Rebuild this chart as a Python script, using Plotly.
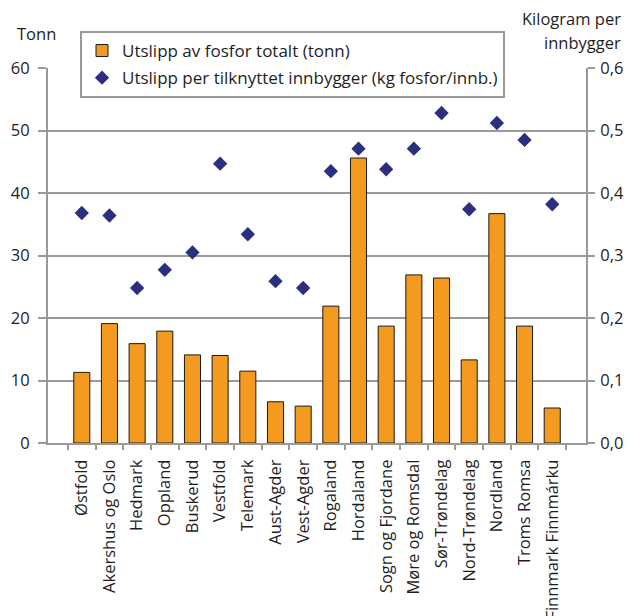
import plotly.graph_objects as go

# Fylke (county) names
fylker = [
    "Østfold", "Akershus og Oslo", "Hedmark", "Oppland", "Buskerud",
    "Vestfold", "Telemark", "Aust-Agder", "Vest-Agder", "Rogaland",
    "Hordaland", "Sogn og Fjordane", "Møre og Romsdal", "Sør-Trøndelag",
    "Nord-Trøndelag", "Nordland", "Troms Romsa", "Finnmark Finnmárku",
]

# Total phosphorus discharge (tonn)
utslipp_tonn = [
    11.3, 19.1, 15.9, 17.9, 14.1, 14.0, 11.5, 6.6, 5.9,
    21.9, 45.6, 18.7, 26.9, 26.4, 13.3, 36.7, 18.7, 5.6,
]

# Discharge per connected inhabitant (kg fosfor/innb.)
utslipp_per_innb = [
    0.368, 0.364, 0.248, 0.277, 0.305, 0.447, 0.334, 0.259, 0.248,
    0.435, 0.471, 0.438, 0.471, 0.528, 0.374, 0.512, 0.485, 0.382,
]

FONT = "Open Sans"
FS = 16.5
TXT = "#1e1e1e"
GRID = "#9a9a9a"
ORANGE = "#F39A1F"
NAVY = "#2A2F80"

fig = go.Figure()

fig.add_trace(go.Bar(
    x=fylker,
    y=utslipp_tonn,
    name="Utslipp av fosfor totalt (tonn)",
    marker=dict(color=ORANGE, line=dict(color="#1a1a1a", width=1)),
    legendgroup="a",
    yaxis="y",
))

fig.add_trace(go.Scatter(
    x=fylker,
    y=utslipp_per_innb,
    name="Utslipp per tilknyttet innbygger (kg fosfor/innb.)",
    mode="markers",
    marker=dict(symbol="diamond", size=11, color=NAVY),
    legendgroup="b",
    yaxis="y2",
))

fig.update_layout(
    width=631,
    height=616,
    margin=dict(l=48, r=45, t=68, b=173, autoexpand=False),
    paper_bgcolor="white",
    plot_bgcolor="white",
    separators=", ",
    font=dict(family=FONT, size=FS, color=TXT),
    bargap=0.42,
    showlegend=True,
    legend=dict(
        x=0.0595, y=1.0987, xanchor="left", yanchor="top",
        bgcolor="white", bordercolor=GRID, borderwidth=2,
        font=dict(family=FONT, size=17, color=TXT),
        traceorder="grouped", tracegroupgap=2,
        itemwidth=30,
    ),
    xaxis=dict(
        type="category",
        tickangle=-90,
        showgrid=False,
        showline=True, linecolor=GRID, linewidth=2,
        ticks="outside", tickson="boundaries", ticklen=5,
        tickcolor=GRID, tickwidth=2,
        ticklabelstandoff=8,
        automargin=False,
        tickfont=dict(family=FONT, size=FS, color=TXT),
    ),
    yaxis=dict(
        range=[0, 60], dtick=10,
        showgrid=True, gridcolor=GRID, gridwidth=2,
        showline=True, linecolor=GRID, linewidth=2,
        ticks="outside", ticklen=8, tickcolor=GRID, tickwidth=2,
        ticklabelstandoff=5,
        zeroline=False,
        automargin=False,
        tickfont=dict(family=FONT, size=FS, color=TXT),
    ),
    yaxis2=dict(
        range=[0, 0.6], dtick=0.1, tickformat=".1f",
        overlaying="y", side="right",
        showgrid=False,
        showline=True, linecolor=GRID, linewidth=2,
        ticks="outside", ticklen=7, tickcolor=GRID, tickwidth=2,
        ticklabelstandoff=2,
        zeroline=False,
        automargin=False,
        tickfont=dict(family=FONT, size=FS, color=TXT),
    ),
    annotations=[
        dict(text="Tonn", xref="paper", yref="paper",
             x=-0.0613, y=1.0907, xanchor="left", yanchor="middle",
             showarrow=False, font=dict(family=FONT, size=FS, color=TXT)),
        dict(text="Kilogram per", xref="paper", yref="paper",
             x=1.0688, y=1.1333, xanchor="right", yanchor="middle",
             showarrow=False, font=dict(family=FONT, size=FS, color=TXT)),
        dict(text="innbygger", xref="paper", yref="paper",
             x=1.0688, y=1.0667, xanchor="right", yanchor="middle",
             showarrow=False, font=dict(family=FONT, size=FS, color=TXT)),
    ],
)

fig.write_html("out.html")
